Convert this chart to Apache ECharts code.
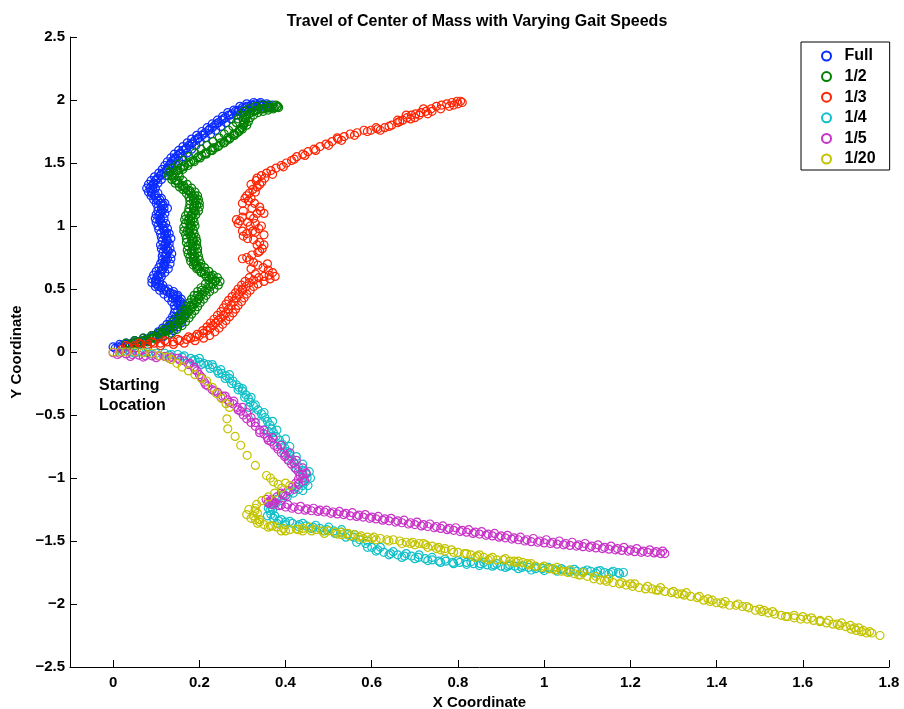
<!DOCTYPE html>
<html><head><meta charset="utf-8">
<script src="https://cdn.jsdelivr.net/npm/echarts@6/dist/echarts.min.js"></script>
<style>html,body{margin:0;padding:0;background:#fff}#c{width:904px;height:709px}</style>
</head><body><div id="c"></div>
<script>
const seriesNames = ['Full', '1/2', '1/3', '1/4', '1/5', '1/20'];
const seriesColors = ['#0b2bff', '#008000', '#ff2200', '#10c0c8', '#c832c8', '#c3c300'];
const xTicks = [0, 0.2, 0.4, 0.6, 0.8, 1, 1.2, 1.4, 1.6, 1.8];
const yTicks = [-2.5, -2, -1.5, -1, -0.5, 0, 0.5, 1, 1.5, 2, 2.5];

const fullPts = [
[0.005,0.03],[0.012,0.04],[0.02,0.05],[0.028,0.06],[0.036,0.06],[0.044,0.07],[0.052,0.08],[0.06,0.08],[0.068,0.09],[0.076,0.1],[0.084,0.11],[0.092,0.12],[0.1,0.13],[0.108,0.15],[0.115,0.16],[0.122,0.18],[0.128,0.2],[0.133,0.22],[0.138,0.24],[0.142,0.26],[0.146,0.28],[0.152,0.29],[0.158,0.31],[0.15,0.33],[0.16,0.35],[0.155,0.37],[0.148,0.39],[0.156,0.40],[0.145,0.42],[0.138,0.43],[0.148,0.44],[0.14,0.46],[0.132,0.47],[0.125,0.48],[0.118,0.49],[0.112,0.51],[0.105,0.52],[0.1,0.54],[0.098,0.56],[0.1,0.58],[0.104,0.60],[0.11,0.62],[0.112,0.64],[0.116,0.66],[0.12,0.68],[0.118,0.70],[0.122,0.72],[0.126,0.74],[0.12,0.76],[0.124,0.78],[0.128,0.80],[0.122,0.82],[0.118,0.84],[0.122,0.86],[0.126,0.88],[0.124,0.90],[0.12,0.92],[0.124,0.94],[0.12,0.96],[0.116,0.98],[0.118,1.00],[0.112,1.02],[0.108,1.04],[0.11,1.06],[0.106,1.08],[0.11,1.10],[0.114,1.12],[0.118,1.14],[0.114,1.16],[0.11,1.18],[0.104,1.20],[0.1,1.22],[0.096,1.24],[0.09,1.26],[0.088,1.28],[0.086,1.30],[0.09,1.32],[0.094,1.34],[0.098,1.36],[0.104,1.38],[0.11,1.40],[0.118,1.42],[0.124,1.44],[0.128,1.46],[0.13,1.48],[0.134,1.50],[0.138,1.52],[0.144,1.54],[0.15,1.56],[0.156,1.58],[0.162,1.60],[0.17,1.62],[0.176,1.64],[0.184,1.66],[0.19,1.68],[0.198,1.70],[0.206,1.72],[0.214,1.74],[0.222,1.76],[0.23,1.78],[0.236,1.80],[0.244,1.82],[0.252,1.84],[0.26,1.86],[0.268,1.88],[0.276,1.89],[0.284,1.91],[0.292,1.92],[0.3,1.94],[0.31,1.95],[0.32,1.96],[0.33,1.97],[0.34,1.97],[0.35,1.96],[0.36,1.95],[0.37,1.96],
[0.02,0.03],[0.04,0.05],[0.06,0.07],[0.08,0.09],[0.1,0.11],[0.115,0.12],[0.13,0.14],[0.14,0.17],[0.15,0.2],[0.158,0.23],[0.162,0.26],[0.166,0.3],[0.165,0.34],[0.163,0.38],[0.158,0.42],[0.15,0.45],[0.14,0.48],[0.128,0.5],[0.115,0.53],[0.108,0.56],[0.112,0.6],[0.12,0.63],[0.128,0.66],[0.132,0.7],[0.134,0.74],[0.136,0.78],[0.132,0.82],[0.13,0.86],[0.134,0.9],[0.13,0.94],[0.126,0.98],[0.122,1.02],[0.118,1.06],[0.12,1.1],[0.126,1.14],[0.12,1.18],[0.112,1.22],[0.104,1.26],[0.098,1.3],[0.104,1.34],[0.112,1.37],[0.122,1.4],[0.132,1.43],[0.138,1.46],[0.144,1.49],[0.152,1.52],[0.162,1.55],[0.172,1.58],[0.182,1.61],[0.192,1.64],[0.202,1.67],[0.214,1.7],[0.226,1.73],[0.238,1.76],[0.25,1.79],[0.262,1.82],[0.274,1.85],[0.286,1.88],[0.298,1.9],[0.31,1.92],[0.322,1.94],[0.334,1.95],[0.346,1.95],[0.358,1.94],
[0.0,0.04],[0.015,0.06],[0.03,0.07],[0.05,0.09],[0.07,0.11],[0.09,0.13],[0.105,0.16],[0.115,0.19],[0.125,0.22],[0.132,0.25],[0.138,0.28],[0.142,0.31],[0.144,0.34],[0.142,0.37],[0.136,0.40],[0.128,0.43],[0.118,0.46],[0.108,0.49],[0.098,0.52],[0.09,0.55],[0.09,0.58],[0.094,0.61],[0.1,0.64],[0.106,0.67],[0.11,0.7],[0.114,0.73],[0.114,0.76],[0.116,0.79],[0.112,0.82],[0.11,0.85],[0.114,0.88],[0.112,0.91],[0.11,0.94],[0.106,0.97],[0.104,1.0],[0.1,1.03],[0.098,1.06],[0.1,1.09],[0.104,1.12],[0.104,1.15],[0.1,1.18],[0.094,1.21],[0.088,1.24],[0.082,1.27],[0.078,1.3],[0.082,1.33],[0.088,1.36],[0.096,1.39],[0.106,1.42],[0.114,1.45],[0.12,1.48],[0.126,1.51],[0.134,1.54],[0.142,1.57],[0.152,1.6],[0.162,1.63],[0.172,1.66],[0.182,1.69],[0.194,1.72],[0.206,1.75],[0.218,1.78],[0.23,1.81],[0.242,1.84],[0.254,1.87],[0.266,1.9],[0.28,1.92],[0.294,1.95],[0.31,1.97],[0.326,1.98],[0.342,1.98],[0.356,1.97],
[0.03,0.04],[0.055,0.07],[0.075,0.09],[0.095,0.12],[0.112,0.14],[0.124,0.17],[0.134,0.2],[0.144,0.23],[0.15,0.26],[0.155,0.3],[0.158,0.34],[0.156,0.38],[0.15,0.41],[0.142,0.445],[0.132,0.465],[0.12,0.5],[0.108,0.53],[0.1,0.57],[0.104,0.61],[0.112,0.65],[0.118,0.69],[0.122,0.73],[0.124,0.77],[0.126,0.81],[0.12,0.85],[0.124,0.89],[0.12,0.93],[0.118,0.97],[0.114,1.01],[0.11,1.05],[0.108,1.09],[0.112,1.13],[0.116,1.17],[0.108,1.21],[0.098,1.25],[0.092,1.29],[0.094,1.33],[0.1,1.37],[0.112,1.41],[0.124,1.45],[0.134,1.49],[0.142,1.53],[0.154,1.57],[0.168,1.61],[0.182,1.65],[0.196,1.69],[0.21,1.73],[0.224,1.77],[0.24,1.81],[0.256,1.85],[0.272,1.88],[0.29,1.91],[0.306,1.94],[0.324,1.96],[0.344,1.96],[0.362,1.95]
];

const halfPts = [
[0.04,0.06],[0.05,0.07],[0.06,0.08],[0.07,0.09],[0.08,0.1],[0.09,0.11],[0.1,0.12],[0.11,0.14],[0.12,0.16],[0.13,0.18],[0.14,0.2],[0.148,0.22],[0.155,0.24],[0.16,0.26],[0.166,0.28],[0.17,0.3],[0.175,0.32],[0.18,0.34],[0.184,0.36],[0.188,0.38],[0.194,0.4],[0.198,0.42],[0.202,0.44],[0.206,0.46],[0.212,0.48],[0.218,0.5],[0.226,0.52],[0.232,0.54],[0.236,0.56],[0.23,0.58],[0.222,0.6],[0.212,0.62],[0.204,0.64],[0.198,0.66],[0.194,0.68],[0.19,0.7],[0.188,0.72],[0.186,0.74],[0.188,0.76],[0.184,0.78],[0.182,0.8],[0.186,0.82],[0.184,0.84],[0.18,0.86],[0.182,0.88],[0.186,0.9],[0.18,0.92],[0.176,0.94],[0.172,0.96],[0.176,0.98],[0.18,1.0],[0.178,1.02],[0.174,1.04],[0.176,1.06],[0.18,1.08],[0.184,1.1],[0.188,1.12],[0.186,1.14],[0.188,1.16],[0.19,1.18],[0.186,1.2],[0.188,1.22],[0.184,1.24],[0.18,1.26],[0.174,1.28],[0.168,1.3],[0.16,1.32],[0.152,1.34],[0.146,1.36],[0.14,1.38],[0.136,1.4],[0.14,1.42],[0.148,1.44],[0.156,1.46],[0.166,1.48],[0.176,1.5],[0.186,1.52],[0.196,1.54],[0.206,1.56],[0.216,1.58],[0.226,1.6],[0.236,1.62],[0.246,1.64],[0.256,1.66],[0.264,1.68],[0.272,1.7],[0.28,1.72],[0.288,1.74],[0.294,1.76],[0.298,1.78],[0.302,1.8],[0.304,1.82],[0.302,1.84],[0.306,1.86],[0.31,1.88],[0.318,1.9],[0.326,1.91],[0.334,1.92],[0.342,1.93],[0.35,1.93],[0.358,1.94],[0.366,1.94],[0.374,1.94],[0.382,1.95],
[0.06,0.06],[0.08,0.08],[0.1,0.1],[0.12,0.13],[0.135,0.15],[0.148,0.18],[0.16,0.21],[0.168,0.24],[0.176,0.27],[0.182,0.3],[0.19,0.33],[0.196,0.36],[0.202,0.39],[0.21,0.42],[0.216,0.45],[0.224,0.48],[0.234,0.5],[0.244,0.53],[0.248,0.56],[0.242,0.59],[0.232,0.61],[0.222,0.64],[0.212,0.67],[0.204,0.7],[0.2,0.73],[0.198,0.76],[0.196,0.79],[0.196,0.82],[0.194,0.85],[0.194,0.88],[0.192,0.91],[0.188,0.94],[0.186,0.97],[0.19,1.0],[0.188,1.03],[0.186,1.06],[0.192,1.09],[0.198,1.12],[0.2,1.15],[0.2,1.18],[0.198,1.21],[0.196,1.24],[0.19,1.27],[0.182,1.3],[0.172,1.33],[0.162,1.36],[0.154,1.39],[0.152,1.42],[0.162,1.45],[0.174,1.48],[0.188,1.51],[0.202,1.54],[0.216,1.57],[0.23,1.6],[0.244,1.63],[0.258,1.66],[0.27,1.69],[0.282,1.72],[0.292,1.75],[0.3,1.77],[0.31,1.8],[0.314,1.83],[0.318,1.86],[0.326,1.88],[0.336,1.9],[0.348,1.91],[0.36,1.92],[0.372,1.93],[0.384,1.94],
[0.03,0.07],[0.05,0.09],[0.07,0.11],[0.09,0.13],[0.105,0.15],[0.118,0.18],[0.13,0.21],[0.14,0.24],[0.148,0.27],[0.156,0.3],[0.163,0.33],[0.17,0.36],[0.176,0.39],[0.182,0.42],[0.188,0.45],[0.196,0.48],[0.204,0.51],[0.214,0.54],[0.222,0.57],[0.216,0.6],[0.204,0.63],[0.194,0.66],[0.186,0.69],[0.18,0.72],[0.178,0.75],[0.174,0.78],[0.172,0.81],[0.174,0.84],[0.17,0.87],[0.17,0.9],[0.168,0.93],[0.164,0.96],[0.164,0.99],[0.168,1.02],[0.166,1.05],[0.168,1.08],[0.174,1.11],[0.176,1.14],[0.178,1.17],[0.178,1.2],[0.176,1.23],[0.17,1.26],[0.162,1.29],[0.154,1.31],[0.144,1.34],[0.136,1.37],[0.128,1.4],[0.13,1.43],[0.138,1.46],[0.15,1.49],[0.162,1.52],[0.176,1.55],[0.19,1.58],[0.204,1.61],[0.218,1.64],[0.232,1.67],[0.246,1.7],[0.258,1.73],[0.268,1.76],[0.278,1.79],[0.286,1.82],[0.29,1.85],[0.296,1.88],[0.304,1.91],[0.316,1.93],[0.33,1.95],[0.346,1.96],[0.362,1.96],[0.378,1.96],
[0.05,0.075],[0.075,0.095],[0.095,0.115],[0.115,0.15],[0.128,0.17],[0.142,0.21],[0.154,0.25],[0.164,0.29],[0.172,0.33],[0.18,0.37],[0.188,0.41],[0.196,0.45],[0.206,0.49],[0.222,0.53],[0.238,0.565],[0.228,0.6],[0.214,0.64],[0.2,0.68],[0.192,0.72],[0.19,0.76],[0.188,0.8],[0.19,0.84],[0.186,0.88],[0.182,0.92],[0.178,0.96],[0.182,1.0],[0.18,1.04],[0.182,1.08],[0.19,1.12],[0.194,1.16],[0.192,1.2],[0.19,1.24],[0.178,1.28],[0.164,1.32],[0.15,1.36],[0.142,1.4],[0.15,1.44],[0.164,1.47],[0.18,1.51],[0.198,1.55],[0.214,1.58],[0.232,1.62],[0.25,1.66],[0.266,1.7],[0.28,1.73],[0.294,1.77],[0.304,1.81],[0.308,1.85],[0.316,1.89],[0.33,1.915],[0.346,1.93],[0.364,1.935],[0.38,1.945]
];

const thirdPts = [
[0.02,0.02],[0.035,0.04],[0.05,0.05],[0.065,0.06],[0.08,0.06],[0.095,0.07],[0.11,0.07],[0.125,0.08],[0.14,0.08],[0.155,0.09],[0.17,0.1],[0.18,0.11],[0.19,0.12],[0.2,0.13],[0.21,0.15],[0.218,0.17],[0.226,0.19],[0.232,0.21],[0.238,0.23],[0.244,0.25],[0.25,0.27],[0.256,0.29],[0.262,0.31],[0.268,0.34],[0.274,0.37],[0.28,0.4],[0.286,0.43],[0.292,0.46],[0.3,0.49],[0.308,0.52],[0.316,0.55],[0.326,0.57],[0.338,0.59],[0.35,0.6],[0.362,0.61],[0.37,0.63],[0.36,0.65],[0.348,0.67],[0.336,0.69],[0.326,0.71],[0.316,0.73],[0.31,0.75],[0.322,0.77],[0.336,0.79],[0.346,0.82],[0.35,0.85],[0.34,0.87],[0.326,0.89],[0.312,0.9],[0.302,0.92],[0.31,0.94],[0.324,0.96],[0.338,0.98],[0.344,1.0],[0.33,1.02],[0.312,1.03],[0.294,1.04],[0.286,1.05],[0.3,1.07],[0.318,1.08],[0.334,1.1],[0.342,1.12],[0.34,1.15],[0.328,1.18],[0.314,1.2],[0.306,1.22],[0.31,1.24],[0.316,1.26],[0.324,1.29],[0.334,1.31],[0.34,1.33],[0.332,1.36],[0.334,1.38],[0.344,1.4],[0.356,1.42],[0.366,1.44],[0.378,1.46],[0.39,1.48],[0.402,1.5],[0.414,1.52],[0.426,1.55],[0.44,1.57],[0.452,1.59],[0.466,1.61],[0.48,1.63],[0.494,1.65],[0.508,1.67],[0.522,1.69],[0.536,1.71],[0.55,1.73],[0.566,1.74],[0.582,1.76],[0.598,1.76],[0.614,1.77],[0.63,1.78],[0.646,1.8],[0.66,1.82],[0.672,1.84],[0.682,1.86],[0.692,1.88],[0.702,1.89],[0.714,1.9],[0.726,1.91],[0.738,1.93],[0.75,1.95],[0.762,1.96],[0.774,1.97],[0.786,1.98],[0.798,1.99],[0.806,1.99],
[0.05,0.03],[0.08,0.04],[0.11,0.05],[0.14,0.06],[0.165,0.07],[0.19,0.09],[0.21,0.11],[0.224,0.13],[0.236,0.16],[0.246,0.19],[0.254,0.22],[0.262,0.25],[0.27,0.28],[0.278,0.31],[0.284,0.34],[0.29,0.37],[0.298,0.4],[0.304,0.43],[0.31,0.46],[0.318,0.49],[0.326,0.52],[0.336,0.54],[0.35,0.56],[0.364,0.58],[0.376,0.6],[0.358,0.7],[0.334,0.85],[0.35,0.93],[0.318,1.0],[0.302,1.12],[0.352,1.38],[0.52,1.7],[0.61,1.78],[0.66,1.84],[0.7,1.86],[0.74,1.91],[0.78,1.95],[0.8,1.97],[0.68,1.88],[0.72,1.93],
[0.03,0.05],[0.06,0.07],[0.09,0.08],[0.12,0.09],[0.15,0.1],[0.175,0.12],[0.195,0.14],[0.208,0.17],[0.218,0.2],[0.226,0.23],[0.234,0.26],[0.242,0.29],[0.25,0.32],[0.256,0.35],[0.262,0.38],[0.268,0.41],[0.276,0.44],[0.284,0.47],[0.29,0.5],[0.298,0.53],[0.306,0.56],[0.316,0.59],[0.33,0.62],[0.3,0.5],[0.32,0.66],[0.3,0.74],[0.34,0.8],[0.33,0.95],[0.3,0.96],[0.29,1.02],[0.326,1.06],[0.35,1.1],[0.322,1.14],[0.3,1.18],[0.32,1.22],[0.33,1.27],[0.345,1.35],[0.32,1.33],[0.37,1.41],[0.395,1.47],[0.42,1.53],[0.445,1.56],[0.47,1.6],[0.5,1.64],[0.53,1.68],[0.56,1.72],[0.59,1.75],[0.62,1.76],[0.64,1.79],[0.665,1.83],[0.69,1.85],[0.71,1.88],[0.73,1.89],[0.76,1.93],[0.79,1.96],[0.81,1.98]
];

const quarterPts = [
[0.02,0.0],[0.04,0.0],[0.06,0.0],[0.08,-0.005],[0.1,-0.01],[0.12,-0.01],[0.135,-0.02],[0.15,-0.02],[0.165,-0.03],[0.18,-0.05],[0.19,-0.06],[0.2,-0.08],[0.21,-0.09],[0.22,-0.1],[0.232,-0.12],[0.242,-0.15],[0.252,-0.17],[0.262,-0.19],[0.27,-0.21],[0.278,-0.23],[0.286,-0.26],[0.292,-0.28],[0.3,-0.31],[0.308,-0.34],[0.314,-0.37],[0.318,-0.4],[0.326,-0.43],[0.336,-0.46],[0.344,-0.49],[0.352,-0.52],[0.358,-0.55],[0.364,-0.58],[0.368,-0.61],[0.372,-0.64],[0.378,-0.67],[0.386,-0.7],[0.392,-0.73],[0.398,-0.76],[0.404,-0.79],[0.41,-0.82],[0.414,-0.85],[0.42,-0.88],[0.43,-0.91],[0.44,-0.94],[0.448,-0.97],[0.45,-1.0],[0.446,-1.03],[0.44,-1.06],[0.43,-1.09],[0.418,-1.12],[0.404,-1.15],[0.39,-1.18],[0.378,-1.2],[0.368,-1.23],[0.364,-1.26],[0.366,-1.29],[0.372,-1.32],[0.384,-1.34],[0.4,-1.35],[0.416,-1.36],[0.432,-1.37],[0.448,-1.38],[0.464,-1.39],[0.48,-1.4],[0.496,-1.41],[0.512,-1.42],[0.528,-1.43],[0.544,-1.45],[0.558,-1.47],[0.572,-1.49],[0.586,-1.52],[0.6,-1.55],[0.614,-1.57],[0.628,-1.59],[0.644,-1.6],[0.66,-1.61],[0.676,-1.62],[0.692,-1.62],[0.708,-1.63],[0.724,-1.64],[0.74,-1.65],[0.756,-1.66],[0.772,-1.66],[0.788,-1.67],[0.804,-1.67],[0.82,-1.67],[0.836,-1.68],[0.852,-1.68],[0.868,-1.69],[0.884,-1.69],[0.9,-1.7],[0.916,-1.7],[0.932,-1.7],[0.948,-1.71],[0.964,-1.71],[0.98,-1.72],[0.996,-1.72],[1.012,-1.72],[1.028,-1.73],[1.044,-1.73],[1.06,-1.73],[1.076,-1.74],[1.092,-1.74],[1.108,-1.74],[1.124,-1.74],[1.14,-1.75],[1.156,-1.75],[1.172,-1.75],[1.184,-1.75],
[0.37,-1.25],[0.375,-1.3],[0.39,-1.33],[0.41,-1.345],[0.44,-1.36],[0.47,-1.375],[0.5,-1.39],[0.53,-1.41],[0.56,-1.45],[0.59,-1.5],[0.62,-1.55],[0.65,-1.585],[0.68,-1.6],[0.71,-1.61],[0.74,-1.63],[0.77,-1.645],[0.8,-1.655],[0.83,-1.665],[0.86,-1.67],[0.89,-1.68],[0.92,-1.69],[0.95,-1.695],[0.98,-1.705],[1.01,-1.71],[1.04,-1.72],[1.07,-1.725],[1.1,-1.73],[1.13,-1.735],[1.16,-1.74],[0.3,-0.29],[0.32,-0.36],[0.33,-0.42],[0.35,-0.48],[0.37,-0.55],[0.38,-0.62],[0.4,-0.69],[0.41,-0.75],[0.425,-0.83],[0.44,-0.89],[0.455,-0.95],[0.458,-1.0],[0.452,-1.06],[0.44,-1.1],[0.27,-0.18],[0.25,-0.14],[0.23,-0.1],[0.2,-0.05],
[0.05,-0.01],[0.09,-0.015],[0.13,-0.025],[0.16,-0.04],[0.185,-0.07],[0.205,-0.1],[0.225,-0.13],[0.245,-0.17],[0.26,-0.21],[0.275,-0.25],[0.29,-0.3],[0.305,-0.36],[0.315,-0.44],[0.33,-0.5],[0.345,-0.56],[0.36,-0.63],[0.372,-0.69],[0.388,-0.74],[0.396,-0.8],[0.408,-0.86],[0.425,-0.93],[0.44,-0.98],[0.44,-1.03],[0.425,-1.07],[0.41,-1.11],[0.395,-1.14],[0.38,-1.17],[0.365,-1.21],[0.36,-1.24],[0.358,-1.3],[0.38,-1.36],[0.4,-1.37],[0.43,-1.385],[0.46,-1.4],[0.49,-1.42],[0.515,-1.44],[0.54,-1.47],[0.565,-1.51],[0.59,-1.55],[0.61,-1.58],[0.64,-1.61],[0.67,-1.63],[0.7,-1.64],[0.73,-1.655],[0.76,-1.67],[0.79,-1.68],[0.82,-1.685],[0.85,-1.695],[0.88,-1.7],[0.91,-1.71],[0.94,-1.72],[0.97,-1.73],[1.0,-1.735],[1.03,-1.74],[1.06,-1.745],[1.09,-1.75],[1.12,-1.755],[1.15,-1.76],[1.175,-1.76]
];

const fifthPts = [
[0.0,-0.005],[0.015,-0.01],[0.03,-0.015],[0.045,-0.02],[0.06,-0.025],[0.075,-0.03],[0.09,-0.03],[0.105,-0.03],[0.12,-0.035],[0.135,-0.04],[0.15,-0.05],[0.165,-0.07],[0.178,-0.09],[0.188,-0.12],[0.195,-0.15],[0.2,-0.18],[0.206,-0.21],[0.212,-0.24],[0.22,-0.27],[0.23,-0.3],[0.242,-0.32],[0.254,-0.35],[0.266,-0.38],[0.278,-0.41],[0.288,-0.44],[0.296,-0.47],[0.302,-0.5],[0.31,-0.53],[0.32,-0.56],[0.33,-0.59],[0.34,-0.62],[0.35,-0.65],[0.358,-0.68],[0.366,-0.71],[0.374,-0.74],[0.382,-0.77],[0.39,-0.8],[0.398,-0.83],[0.406,-0.86],[0.414,-0.89],[0.422,-0.92],[0.43,-0.95],[0.434,-0.98],[0.43,-1.01],[0.424,-1.04],[0.416,-1.07],[0.406,-1.1],[0.394,-1.13],[0.38,-1.15],[0.368,-1.17],[0.36,-1.19],[0.37,-1.21],[0.385,-1.22],[0.4,-1.23],[0.415,-1.24],[0.43,-1.25],[0.445,-1.255],[0.46,-1.26],[0.475,-1.265],[0.49,-1.27],[0.505,-1.28],[0.52,-1.285],[0.535,-1.29],[0.55,-1.3],[0.565,-1.305],[0.58,-1.31],[0.595,-1.32],[0.61,-1.325],[0.625,-1.335],[0.64,-1.34],[0.655,-1.35],[0.67,-1.355],[0.685,-1.365],[0.7,-1.37],[0.715,-1.38],[0.73,-1.385],[0.745,-1.395],[0.76,-1.4],[0.775,-1.41],[0.79,-1.415],[0.805,-1.425],[0.82,-1.43],[0.835,-1.44],[0.85,-1.445],[0.865,-1.455],[0.88,-1.46],[0.895,-1.47],[0.91,-1.475],[0.925,-1.485],[0.94,-1.49],[0.955,-1.5],[0.97,-1.505],[0.985,-1.51],[1.0,-1.515],[1.015,-1.52],[1.03,-1.525],[1.045,-1.53],[1.06,-1.535],[1.075,-1.54],[1.09,-1.545],[1.105,-1.55],[1.12,-1.555],[1.135,-1.56],[1.15,-1.565],[1.165,-1.57],[1.18,-1.575],[1.195,-1.58],[1.21,-1.585],[1.225,-1.59],[1.24,-1.59],[1.255,-1.595],[1.27,-1.6],[1.28,-1.6],
[0.36,-1.2],[0.39,-1.215],[0.42,-1.23],[0.45,-1.245],[0.48,-1.255],[0.51,-1.27],[0.54,-1.28],[0.57,-1.295],[0.6,-1.31],[0.63,-1.325],[0.66,-1.34],[0.69,-1.355],[0.72,-1.37],[0.75,-1.385],[0.78,-1.4],[0.81,-1.415],[0.84,-1.43],[0.87,-1.445],[0.9,-1.46],[0.93,-1.475],[0.96,-1.49],[0.99,-1.5],[1.02,-1.51],[1.05,-1.52],[1.08,-1.53],[1.11,-1.54],[1.14,-1.55],[1.17,-1.56],[1.2,-1.57],[1.23,-1.58],[1.26,-1.585],[0.44,-0.97],[0.44,-1.0],[0.43,-1.05],[0.4,-1.14],[0.37,-1.18],[0.34,-0.64],[0.36,-0.7],[0.38,-0.75],[0.4,-0.82],[0.42,-0.88],[0.27,-0.4],[0.25,-0.36],[0.29,-0.46],
[0.375,-1.195],[0.405,-1.21],[0.435,-1.225],[0.465,-1.24],[0.495,-1.255],[0.525,-1.265],[0.555,-1.275],[0.585,-1.29],[0.615,-1.305],[0.645,-1.32],[0.675,-1.335],[0.705,-1.35],[0.735,-1.365],[0.765,-1.38],[0.795,-1.395],[0.825,-1.41],[0.855,-1.425],[0.885,-1.44],[0.915,-1.455],[0.945,-1.47],[0.975,-1.48],[1.005,-1.49],[1.035,-1.5],[1.065,-1.51],[1.095,-1.52],[1.125,-1.53],[1.155,-1.54],[1.185,-1.55],[1.215,-1.56],[1.245,-1.57],[1.275,-1.58],[0.01,-0.02],[0.04,-0.035],[0.07,-0.04],[0.1,-0.045],[0.13,-0.05],[0.155,-0.065],[0.175,-0.1],[0.19,-0.14],[0.205,-0.2],[0.215,-0.26],[0.235,-0.31],[0.26,-0.35],[0.28,-0.39],[0.3,-0.44],[0.31,-0.48],[0.32,-0.52],[0.33,-0.56],[0.35,-0.62],[0.37,-0.68],[0.39,-0.74],[0.41,-0.8],[0.425,-0.86],[0.44,-0.92],[0.448,-0.96],[0.444,-1.02],[0.42,-1.09],[0.39,-1.12],[0.355,-1.17]
];

const twentiethPts = [
[0.0,0.0],[0.015,0.0],[0.03,0.0],[0.05,0.0],[0.07,-0.005],[0.09,-0.01],[0.108,-0.03],[0.125,-0.04],[0.135,-0.06],[0.148,-0.09],[0.16,-0.12],[0.175,-0.15],[0.19,-0.18],[0.205,-0.21],[0.217,-0.23],[0.23,-0.28],[0.24,-0.33],[0.252,-0.37],[0.262,-0.41],[0.27,-0.44],[0.264,-0.53],[0.266,-0.61],[0.283,-0.67],[0.296,-0.74],[0.311,-0.82],[0.33,-0.9],[0.356,-0.98],[0.372,-1.03],[0.383,-1.05],[0.391,-1.08],[0.375,-1.12],[0.36,-1.15],[0.345,-1.18],[0.333,-1.21],[0.329,-1.26],[0.325,-1.3],[0.33,-1.33],[0.34,-1.35],[0.35,-1.37],[0.365,-1.38],[0.38,-1.39],[0.395,-1.4],[0.41,-1.41],[0.425,-1.405],[0.44,-1.4],[0.455,-1.39],[0.47,-1.41],[0.485,-1.42],[0.5,-1.42],[0.515,-1.43],[0.53,-1.43],[0.545,-1.44],[0.56,-1.45],[0.575,-1.46],[0.59,-1.47],[0.605,-1.47],[0.62,-1.48],[0.635,-1.49],[0.65,-1.49],[0.665,-1.5],[0.68,-1.51],[0.695,-1.51],[0.71,-1.52],[0.725,-1.53],[0.74,-1.54],[0.755,-1.55],[0.77,-1.56],[0.785,-1.57],[0.8,-1.59],[0.815,-1.6],[0.83,-1.61],[0.845,-1.62],[0.86,-1.63],[0.875,-1.64],[0.89,-1.65],[0.905,-1.65],[0.92,-1.66],[0.935,-1.67],[0.95,-1.67],[0.965,-1.69],[0.98,-1.7],[0.995,-1.71],[1.01,-1.72],[1.025,-1.73],[1.04,-1.74],[1.055,-1.75],[1.07,-1.76],[1.085,-1.77],[1.1,-1.78],[1.115,-1.8],[1.13,-1.81],[1.145,-1.82],[1.16,-1.83],[1.175,-1.84],[1.19,-1.85],[1.205,-1.86],[1.22,-1.87],[1.235,-1.88],[1.25,-1.88],[1.265,-1.89],[1.28,-1.9],[1.295,-1.91],[1.31,-1.92],[1.325,-1.93],[1.34,-1.94],[1.355,-1.95],[1.37,-1.97],[1.385,-1.98],[1.4,-1.99],[1.415,-2.0],[1.43,-2.01],[1.445,-2.01],[1.46,-2.02],[1.475,-2.03],[1.49,-2.05],[1.505,-2.06],[1.52,-2.07],[1.535,-2.08],[1.55,-2.09],[1.565,-2.1],[1.58,-2.11],[1.595,-2.12],[1.61,-2.12],[1.625,-2.13],[1.64,-2.14],[1.655,-2.15],[1.67,-2.16],[1.685,-2.17],[1.7,-2.18],[1.712,-2.2],[1.724,-2.21],[1.736,-2.22],[1.748,-2.23],[1.76,-2.23],[1.779,-2.25],
[0.33,-1.24],[0.335,-1.28],[0.32,-1.32],[0.335,-1.36],[0.36,-1.39],[0.39,-1.42],[0.43,-1.41],[0.46,-1.42],[0.49,-1.44],[0.52,-1.445],[0.55,-1.46],[0.58,-1.48],[0.61,-1.49],[0.64,-1.5],[0.67,-1.52],[0.7,-1.53],[0.73,-1.55],[0.76,-1.57],[0.79,-1.59],[0.82,-1.6],[0.85,-1.61],[0.88,-1.63],[0.91,-1.64],[0.94,-1.66],[0.97,-1.68],[1.0,-1.7],[1.03,-1.71],[1.06,-1.73],[1.09,-1.75],[1.12,-1.78],[1.15,-1.8],[1.18,-1.83],[1.21,-1.84],[1.24,-1.86],[1.27,-1.87],[1.3,-1.9],[1.33,-1.91],[1.36,-1.94],[1.39,-1.97],[1.42,-1.98],[1.45,-2.0],[1.5,-2.04],[1.53,-2.06],[1.58,-2.09],[1.62,-2.11],[1.66,-2.13],[1.69,-2.15],[1.71,-2.17],[1.73,-2.19],[1.74,-2.21],[0.41,-1.06],[0.4,-1.04],[0.365,-1.0],
[0.31,-1.29],[0.315,-1.25],[0.34,-1.33],[0.37,-1.38],[0.4,-1.42],[0.44,-1.42],[0.53,-1.45],[0.57,-1.47],[0.6,-1.48],[0.69,-1.52],[0.72,-1.52],[0.75,-1.56],[0.77,-1.58],[0.84,-1.63],[0.87,-1.65],[0.93,-1.66],[0.96,-1.68],[1.02,-1.72],[1.05,-1.74],[1.08,-1.77],[1.14,-1.81],[1.2,-1.84],[1.26,-1.89],[1.32,-1.92],[1.38,-1.96],[1.41,-1.99],[1.47,-2.02],[1.51,-2.05],[1.56,-2.1],[1.6,-2.1],[1.64,-2.13],[1.68,-2.16],[1.72,-2.19],[1.755,-2.22]
];

const allData = [fullPts, halfPts, thirdPts, quarterPts, fifthPts, twentiethPts];
const FONT = '"Liberation Sans", Arial, Helvetica, sans-serif';
const fmt = v => String(+v.toFixed(2)).replace('-', '\u2212');

const chart = echarts.init(document.getElementById('c'), null, {renderer: 'canvas'});
chart.setOption({
  animation: false,
  backgroundColor: '#fff',
  title: {
    text: 'Travel of Center of Mass with Varying Gait Speeds',
    left: 472, top: 9, textAlign: 'center',
    textStyle: {fontFamily: FONT, fontSize: 16, fontWeight: 'bold', color: '#000'}
  },
  grid: {left: 70, right: 15, top: 37, bottom: 42, containLabel: false, outerBoundsMode: 'none'},
  legend: {
    orient: 'vertical', left: 801, top: 42,
    padding: [6, 14, 3, 20],
    itemWidth: 26, itemHeight: 9, itemGap: 4.6,
    borderColor: '#000', borderWidth: 1, backgroundColor: '#fff',
    textStyle: {fontFamily: FONT, fontSize: 16, fontWeight: 'bold', color: '#000', lineHeight: 14},
    data: seriesNames
  },
  xAxis: {
    type: 'value', min: -0.1, max: 1.8,
    name: 'X Coordinate', nameLocation: 'middle', nameGap: 27,
    nameTextStyle: {fontFamily: FONT, fontSize: 15, fontWeight: 'bold', color: '#000'},
    axisLine: {onZero: false, lineStyle: {color: '#000', width: 1}},
    axisTick: {inside: true, length: 7, customValues: xTicks, lineStyle: {color: '#000'}},
    axisLabel: {customValues: xTicks, margin: 8, formatter: fmt,
      fontFamily: FONT, fontSize: 15, fontWeight: 'bold', color: '#000'},
    splitLine: {show: false}
  },
  yAxis: {
    type: 'value', min: -2.5, max: 2.5,
    name: 'Y Coordinate', nameLocation: 'middle', nameGap: 42,
    nameTextStyle: {fontFamily: FONT, fontSize: 15, fontWeight: 'bold', color: '#000'},
    axisLine: {onZero: false, lineStyle: {color: '#000', width: 1}},
    axisTick: {inside: true, length: 7, customValues: yTicks, lineStyle: {color: '#000'}},
    axisLabel: {customValues: yTicks, margin: 5, formatter: fmt,
      fontFamily: FONT, fontSize: 15, fontWeight: 'bold', color: '#000'},
    splitLine: {show: false}
  },
  graphic: [{
    type: 'text', left: 99, top: 376,
    style: {text: 'Starting\nLocation', font: 'bold 16px ' + FONT, fill: '#000', lineHeight: 20}
  }],
  series: seriesNames.map((n, i) => ({
    name: n, type: 'scatter', data: allData[i],
    symbol: 'circle', symbolSize: 8,
    itemStyle: {color: 'rgba(255,255,255,0)', borderColor: seriesColors[i], borderWidth: 1.2, opacity: 1},
    emphasis: {disabled: true}
  }))
});
</script></body></html>
